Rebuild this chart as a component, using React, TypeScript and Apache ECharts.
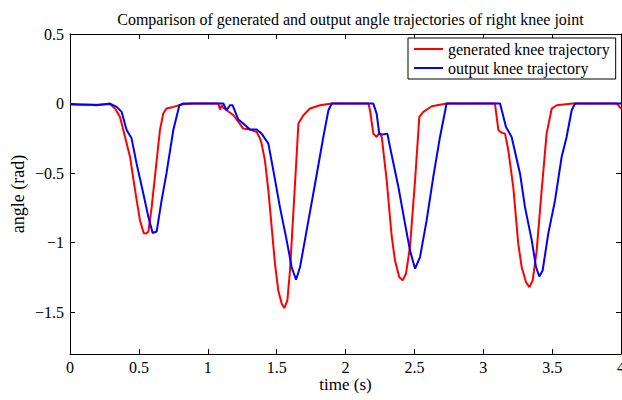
import React, { useEffect, useRef } from "react";
import * as echarts from "echarts";

const xTicks = [0, 0.5, 1, 1.5, 2, 2.5, 3, 3.5, 4];
const yTicks = [-1.5, -1, -0.5, 0, 0.5];

const genTime = [0, 0.1, 0.2, 0.29, 0.33, 0.363, 0.387, 0.436, 0.472, 0.508, 0.535, 0.552, 0.569, 0.593, 0.629, 0.653, 0.677, 0.7, 0.75, 0.82, 0.9, 1.077, 1.089, 1.101, 1.113, 1.137, 1.187, 1.258, 1.307, 1.355, 1.379, 1.391, 1.415, 1.44, 1.464, 1.488, 1.512, 1.537, 1.556, 1.578, 1.597, 1.621, 1.646, 1.658, 1.694, 1.742, 1.815, 1.9, 2.166, 2.178, 2.202, 2.226, 2.245, 2.263, 2.299, 2.335, 2.359, 2.39, 2.415, 2.439, 2.468, 2.505, 2.536, 2.565, 2.626, 2.734, 3.085, 3.11, 3.134, 3.158, 3.182, 3.218, 3.254, 3.279, 3.31, 3.335, 3.359, 3.388, 3.424, 3.46, 3.497, 3.533, 3.65, 3.97, 4.0];
const genAngle = [-0.005, -0.008, -0.008, -0.003, -0.04, -0.096, -0.19, -0.384, -0.62, -0.84, -0.93, -0.935, -0.92, -0.744, -0.41, -0.19, -0.072, -0.036, -0.024, -0.005, 0, 0, -0.043, -0.012, -0.03, -0.048, -0.084, -0.18, -0.187, -0.204, -0.25, -0.288, -0.408, -0.624, -0.888, -1.151, -1.343, -1.439, -1.47, -1.415, -1.2, -0.79, -0.36, -0.144, -0.084, -0.036, -0.012, 0, 0, -0.048, -0.216, -0.24, -0.211, -0.24, -0.552, -0.95, -1.127, -1.247, -1.271, -1.223, -1.032, -0.552, -0.096, -0.06, -0.019, 0, 0, -0.192, -0.209, -0.216, -0.336, -0.6, -1.007, -1.175, -1.283, -1.319, -1.271, -1.055, -0.624, -0.216, -0.036, -0.012, 0, 0, -0.036];

const outTime = [0, 0.15, 0.19, 0.25, 0.29, 0.339, 0.375, 0.411, 0.447, 0.483, 0.532, 0.569, 0.6, 0.629, 0.665, 0.7, 0.75, 0.794, 0.82, 1.113, 1.137, 1.161, 1.18, 1.222, 1.258, 1.307, 1.355, 1.391, 1.44, 1.476, 1.524, 1.573, 1.609, 1.641, 1.67, 1.718, 1.779, 1.839, 1.876, 1.9, 2.202, 2.226, 2.245, 2.27, 2.304, 2.323, 2.384, 2.432, 2.468, 2.505, 2.541, 2.589, 2.637, 2.686, 2.734, 3.122, 3.165, 3.206, 3.267, 3.303, 3.352, 3.383, 3.407, 3.431, 3.472, 3.521, 3.569, 3.605, 3.642, 3.666, 4.0];
const outAngle = [-0.005, -0.008, -0.012, -0.005, 0, -0.024, -0.06, -0.19, -0.25, -0.43, -0.647, -0.816, -0.93, -0.92, -0.696, -0.504, -0.19, -0.012, 0, 0, -0.048, -0.012, -0.012, -0.115, -0.144, -0.187, -0.187, -0.216, -0.288, -0.48, -0.744, -0.983, -1.175, -1.266, -1.175, -0.911, -0.576, -0.24, -0.048, 0, 0, -0.072, -0.216, -0.223, -0.216, -0.312, -0.6, -0.863, -1.055, -1.187, -1.103, -0.84, -0.528, -0.24, 0, 0, -0.168, -0.24, -0.504, -0.744, -0.983, -1.175, -1.243, -1.2, -0.935, -0.696, -0.384, -0.24, -0.048, 0, 0];

const FONT = "'Liberation Serif', 'DejaVu Serif', serif";

const fmt = (v: number) => (v < 0 ? "\u2212" + String(Math.abs(v)) : String(v));

export default function App() {
  const ref = useRef<HTMLDivElement>(null);
  useEffect(() => {
    if (!ref.current) return;
    const chart = echarts.init(ref.current, undefined, { renderer: "svg" });
    const axisCommon = {
      axisLine: { show: true, onZero: false, lineStyle: { color: "#000", width: 1 } },
      axisTick: { show: true, inside: true, length: 5, lineStyle: { color: "#000" } },
      splitLine: { show: false },
    };
    chart.setOption({
      animation: false,
      backgroundColor: "#fff",
      title: {
        text: "Comparison of generated and output angle trajectories of right knee joint",
        left: 345.5,
        textAlign: "center",
        top: 6,
        textStyle: { fontFamily: FONT, fontSize: 16, fontWeight: "normal", color: "#000" },
      },
      legend: {
        orient: "vertical",
        left: 408,
        top: 38,
        backgroundColor: "#fff",
        borderColor: "#000",
        borderWidth: 1,
        padding: [3, 6, 3, 6],
        itemGap: 3,
        icon: "rect",
        itemWidth: 29,
        itemHeight: 2,
        textStyle: { fontFamily: FONT, fontSize: 16, color: "#000" },
        data: ["generated knee trajectory", "output knee trajectory"],
      },
      grid: { left: 70, right: 1, top: 34, bottom: 46, containLabel: false, outerBoundsMode: "none" },
      xAxis: [
        {
          type: "value",
          min: 0,
          max: 4,
          interval: 0.5,
          position: "bottom",
          ...axisCommon,
          axisLabel: {
            show: true,
            margin: 6,
            fontFamily: FONT,
            fontSize: 16,
            lineHeight: 15,
            color: "#000",
            formatter: (v: number) => fmt(v),
            customValues: xTicks,
          },
          name: "time (s)",
          nameLocation: "middle",
          nameGap: 22,
          nameMoveOverlap: false,
          nameTextStyle: { fontFamily: FONT, fontSize: 17, lineHeight: 17, color: "#000" },
        },
        {
          type: "value",
          min: 0,
          max: 4,
          interval: 0.5,
          position: "top",
          ...axisCommon,
          axisLabel: { show: false },
        },
      ],
      yAxis: [
        {
          type: "value",
          min: -1.8,
          max: 0.5,
          position: "left",
          ...axisCommon,
          axisTick: { ...axisCommon.axisTick, customValues: yTicks },
          axisLabel: {
            show: true,
            margin: 6,
            fontFamily: FONT,
            fontSize: 16,
            color: "#000",
            customValues: yTicks,
            formatter: (v: number) => fmt(v),
          },
          name: "angle (rad)",
          nameLocation: "middle",
          nameGap: 43,
          nameRotate: 90,
          nameMoveOverlap: false,
          nameTextStyle: { fontFamily: FONT, fontSize: 18, color: "#000" },
        },
        {
          type: "value",
          min: -1.8,
          max: 0.5,
          position: "right",
          ...axisCommon,
          axisTick: { ...axisCommon.axisTick, customValues: yTicks },
          axisLabel: { show: false, customValues: yTicks },
        },
      ],
      series: [
        {
          name: "generated knee trajectory",
          type: "line",
          data: genTime.map((t, i) => [t, genAngle[i]]),
          showSymbol: false,
          symbol: "none",
          lineStyle: { color: "#ff0000", width: 2 },
          itemStyle: { color: "#ff0000" },
          z: 2,
        },
        {
          name: "output knee trajectory",
          type: "line",
          data: outTime.map((t, i) => [t, outAngle[i]]),
          showSymbol: false,
          symbol: "none",
          lineStyle: { color: "#0000ff", width: 2 },
          itemStyle: { color: "#0000ff" },
          z: 3,
        },
      ],
    });
    return () => chart.dispose();
  }, []);
  return (
    <div
      ref={ref}
      style={{ position: "fixed", left: 0, top: 0, width: 622, height: 400, background: "#fff" }}
    />
  );
}
